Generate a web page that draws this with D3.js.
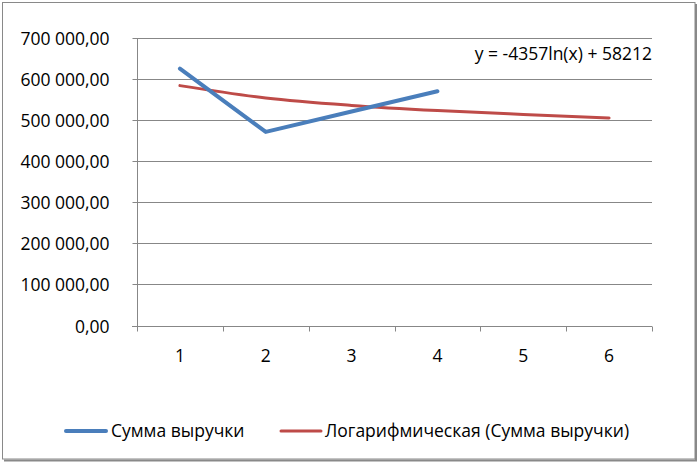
<!DOCTYPE html>
<html>
<head>
<meta charset="utf-8">
<script src="https://cdn.jsdelivr.net/npm/d3@7"></script>
<style>
  html, body { margin: 0; padding: 0; background: #fff; }
  svg text { font-family: "Open Sans", "Noto Sans", sans-serif; fill: #000; }
</style>
</head>
<body>
<svg id="chart" width="698" height="462"></svg>
<script>
// ---- data ----
const categories = ["1", "2", "3", "4", "5", "6"];
const revenue = [624500, 470500, 520000, 569500];            // Сумма выручки
const trend = [583000, 553000, 535000, 522500, 513000, 504500]; // Логарифмическая (Сумма выручки)
const yTicks = [0, 100000, 200000, 300000, 400000, 500000, 600000, 700000];
const seriesNames = ["Сумма выручки", "Логарифмическая (Сумма выручки)"];
const equationLabel = "y = -4357ln(x) + 58212";

// ---- layout ----
const svg = d3.select("#chart");
const plot = { left: 137, right: 652, top: 37.5, bottom: 325.5 };
const blue = "#4A7EBB", red = "#BE4B48", grid = "#878787";
const FS = 17.5;

const x = d3.scaleBand().domain(categories).range([plot.left, plot.right]);
const y = d3.scaleLinear().domain([0, 700000]).range([plot.bottom, plot.top]);
const cx = c => x(c) + x.bandwidth() / 2;

// chart frame
svg.append("rect").attr("x", 2.5).attr("y", 2.5).attr("width", 692.5).attr("height", 456.5)
  .attr("fill", "#fff").attr("stroke", "#898989").attr("stroke-width", 1);
svg.append("line").attr("x1", 696).attr("x2", 696).attr("y1", 4).attr("y2", 460.5)
  .attr("stroke", "#898989").attr("stroke-width", 2);
svg.append("line").attr("x1", 4).attr("x2", 697).attr("y1", 460.5).attr("y2", 460.5)
  .attr("stroke", "#898989").attr("stroke-width", 2);

// gridlines
svg.append("g").selectAll("line").data(yTicks.filter(d => d > 0)).join("line")
  .attr("x1", plot.left).attr("x2", plot.right)
  .attr("y1", d => Math.round(y(d)) + 0.5).attr("y2", d => Math.round(y(d)) + 0.5)
  .attr("stroke", grid).attr("stroke-width", 1);

// y axis
const fmt = v => {
  const s = d3.format(",.2f")(v);
  return s.replace(/,/g, " ").replace(".", ",");
};
const yAxis = d3.axisLeft(y).tickValues(yTicks).tickSize(5).tickPadding(23).tickFormat(fmt);
const gy = svg.append("g").attr("transform", `translate(${plot.left + 0.5},0.5)`).call(yAxis);
gy.select(".domain").attr("stroke", grid).attr("d", `M0,${plot.top}V${plot.bottom}`);
gy.selectAll(".tick line").attr("stroke", grid);
gy.selectAll(".tick").attr("transform", d => `translate(0,${Math.round(y(d))})`);
gy.selectAll("text").attr("font-size", FS).attr("font-family", "Open Sans").attr("dy", "0.36em");

// x axis
const xAxis = d3.axisBottom(x).tickSize(0).tickPadding(23);
const gx = svg.append("g").attr("transform", `translate(0,${Math.round(plot.bottom) + 0.5})`).call(xAxis);
gx.select(".domain").attr("stroke", grid).attr("d", `M${plot.left - 5},0H${plot.right}`);
gx.selectAll("text").attr("font-size", FS).attr("font-family", "Open Sans");
// x tick marks at band boundaries
const bounds = categories.map(c => x(c)).concat([plot.right]);
gx.append("g").selectAll("line").data(bounds).join("line")
  .attr("x1", d => Math.round(d) + 0.5).attr("x2", d => Math.round(d) + 0.5)
  .attr("y1", 0).attr("y2", 5).attr("stroke", grid);

// trend line (drawn first, under)
const trendLine = d3.line().x((d, i) => cx(categories[i])).y(d => y(d)).curve(d3.curveMonotoneX);
svg.append("path").datum(trend).attr("d", trendLine)
  .attr("fill", "none").attr("stroke", red).attr("stroke-width", 3).attr("stroke-linecap", "round");

// revenue line
const revLine = d3.line().x((d, i) => cx(categories[i])).y(d => y(d));
svg.append("path").datum(revenue).attr("d", revLine)
  .attr("fill", "none").attr("stroke", blue).attr("stroke-width", 4)
  .attr("stroke-linecap", "round").attr("stroke-linejoin", "round");

// equation label
svg.append("text").attr("x", 652).attr("y", 60).attr("text-anchor", "end")
  .attr("font-size", FS).text(equationLabel);

// legend
const legendItems = [
  { name: seriesNames[0], color: blue, width: 4, x1: 66, x2: 106, tx: 111 },
  { name: seriesNames[1], color: red, width: 3, x1: 281, x2: 321, tx: 325 }
];
const lg = svg.append("g");
legendItems.forEach(it => {
  lg.append("line").attr("x1", it.x1).attr("x2", it.x2).attr("y1", 431).attr("y2", 431)
    .attr("stroke", it.color).attr("stroke-width", it.width).attr("stroke-linecap", "round");
  lg.append("text").attr("x", it.tx).attr("y", 437).attr("font-size", FS).text(it.name);
});
</script>
</body>
</html>
